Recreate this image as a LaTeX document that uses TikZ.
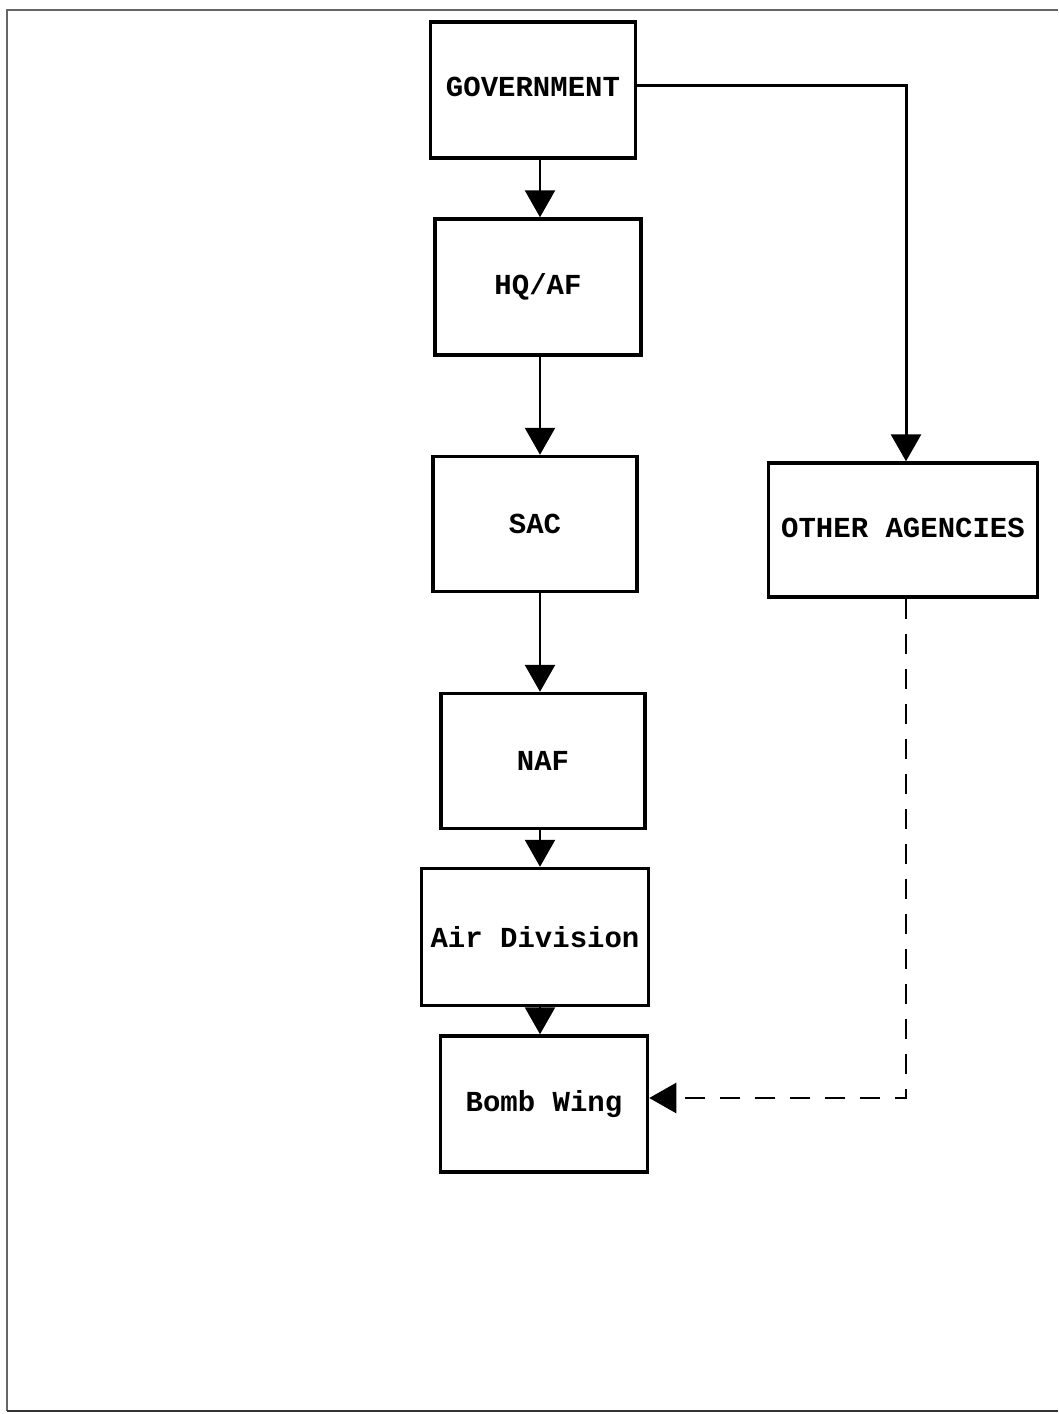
\documentclass[tikz,border=0pt]{standalone}
\usepackage{fontspec}
\setmonofont{Liberation Mono}
\usetikzlibrary{arrows.meta}
\begin{document}
\begin{tikzpicture}[x=1pt,y=-1pt,
  box/.style={draw, line width=3.5pt, inner sep=0pt, font=\ttfamily\bfseries\fontsize{29}{32}\selectfont},
  arr/.style={line width=2.6pt, -{Triangle[width=30pt,length=27pt]}},
  darr/.style={arr, dash pattern=on 20pt off 15pt}]
\useasboundingbox (0,0) rectangle (1058,1414);
\fill[white] (0,0) rectangle (1058,1414);
\draw[line width=1.2pt, black!60] (7,1411) -- (7,10) -- (1058,10);
\draw[line width=2.5pt, black!80] (7,1411) -- (1058,1411);
\node[box, minimum width=205pt, minimum height=136pt] (gov) at (533,90) {\raisebox{6pt}{GOVERNMENT}};
\node[box, minimum width=206pt, minimum height=136pt] (hq) at (538,287) {HQ/AF};
\node[box, minimum width=204pt, minimum height=135pt] (sac) at (535,524) {SAC};
\node[box, minimum width=204pt, minimum height=135pt] (naf) at (543,761) {NAF};
\node[box, minimum width=227pt, minimum height=137pt] (air) at (535,937) {Air Division};
\node[box, minimum width=207pt, minimum height=136pt] (bomb) at (544,1104) {\raisebox{3pt}{Bomb Wing}};
\node[box, minimum width=269pt, minimum height=134pt] (other) at (903,530) {\raisebox{4pt}{OTHER AGENCIES}};
\draw[arr] (gov.south -| 540,0) -- (hq.north -| 540,0);
\draw[arr] (hq.south -| 540,0) -- (sac.north -| 540,0);
\draw[arr] (sac.south -| 540,0) -- (naf.north -| 540,0);
\draw[arr] (naf.south -| 540,0) -- (air.north -| 540,0);
\draw[arr] (air.south -| 540,0) -- (bomb.north -| 540,0);
\draw[arr, line width=3pt] (gov.east |- 0,85) -| (other.north -| 906,0);
\coordinate (dc) at (906,1098);
\draw[darr] (other.south -| dc) -- (dc) -- (bomb.east |- dc);
\end{tikzpicture}
\end{document}
